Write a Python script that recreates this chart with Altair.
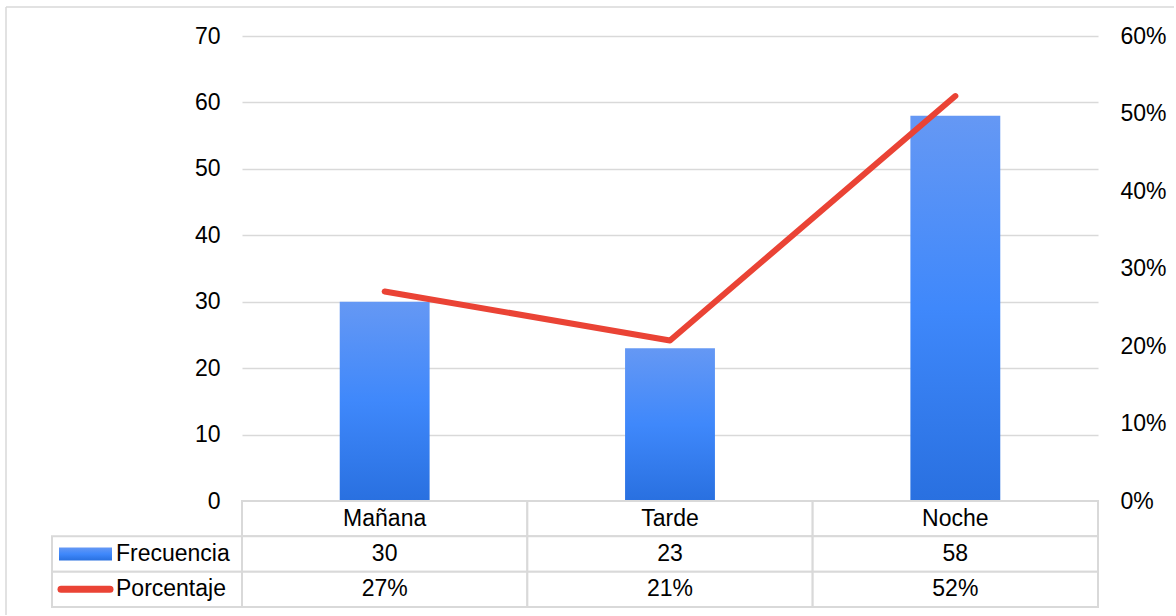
import altair as alt
import pandas as pd

# ---- data ----
categories = ["Mañana", "Tarde", "Noche"]
frecuencia = [30, 23, 58]
porcentaje = [0.2703, 0.2072, 0.5225]
porcentaje_labels = ["27%", "21%", "52%"]
series_names = ["Frecuencia", "Porcentaje"]
left_ticks = [0, 10, 20, 30, 40, 50, 60, 70]
right_ticks = [0, 0.1, 0.2, 0.3, 0.4, 0.5, 0.6]

df = pd.DataFrame({"cat": categories, "freq": frecuencia, "pct": porcentaje})

row_order = ["header"] + series_names
table_rows = []
for c, f, p in zip(categories, frecuencia, porcentaje_labels):
    table_rows.append({"cat": c, "row": "header", "text": c})
    table_rows.append({"cat": c, "row": "Frecuencia", "text": str(f)})
    table_rows.append({"cat": c, "row": "Porcentaje", "text": p})
table_df = pd.DataFrame(table_rows)
legend_df = pd.DataFrame({"row": series_names})
one = pd.DataFrame({"k": [0]})

# ---- style ----
W, H = 856, 465
TH = 106
FONT = "Liberation Sans"
FS = 23
GRID = "#d9d9d9"
RED = "#ea4335"
grad = alt.LinearGradient(
    gradient="linear",
    stops=[
        alt.GradientStop(color="#6598f4", offset=0),
        alt.GradientStop(color="#3f88fb", offset=0.5),
        alt.GradientStop(color="#2970e0", offset=1),
    ],
    x1=0, x2=0, y1=0, y2=1,
)

x_enc = alt.X("cat:N", sort=categories,
              scale=alt.Scale(paddingInner=0, paddingOuter=0), axis=None)

bars = alt.Chart(df).mark_bar(color=grad, width=alt.RelativeBandSize(0.315)).encode(
    x=x_enc,
    y=alt.Y("freq:Q", scale=alt.Scale(domain=[0, 70]),
            axis=alt.Axis(values=left_ticks, title=None, grid=True, gridColor=GRID,
                          gridWidth=1.3, domain=False, ticks=False, labelPadding=22,
                          labelFont=FONT, labelFontSize=FS, labelColor="#000000")),
)

line = alt.Chart(df).mark_line(color=RED, strokeWidth=6, strokeCap="round",
                               strokeJoin="round").encode(
    x=x_enc,
    y=alt.Y("pct:Q", scale=alt.Scale(domain=[0, 0.6]),
            axis=alt.Axis(orient="right", values=right_ticks, format=".0%", title=None,
                          grid=False, domain=False, ticks=False, labelPadding=22,
                          labelFont=FONT, labelFontSize=FS, labelColor="#000000")),
)

frame_top = alt.Chart(one).mark_rule(color=GRID, strokeWidth=1.5).encode(
    x=alt.value(-236), x2=alt.value(932), y=alt.value(-29))
frame_left = alt.Chart(one).mark_rule(color=GRID, strokeWidth=1.5).encode(
    x=alt.value(-236), y=alt.value(-29), y2=alt.value(579))

top = alt.layer(frame_top, frame_left, bars, line).resolve_scale(y="independent").properties(
    width=W, height=H)

# ---- data table ----
y_tab = alt.Y("row:N", sort=row_order, scale=alt.Scale(paddingInner=0, paddingOuter=0),
              axis=None)
x_tab = alt.X("cat:N", sort=categories,
              scale=alt.Scale(paddingInner=0, paddingOuter=0), axis=None)

cells = alt.Chart(table_df).mark_rect(fill="white", stroke=GRID, strokeWidth=2).encode(
    x=x_tab, y=y_tab)
cell_text = alt.Chart(table_df).mark_text(font=FONT, fontSize=FS, color="#000000",
                                          baseline="middle").encode(
    x=x_tab, y=y_tab, text="text:N")

leg_cells = alt.Chart(legend_df).mark_rect(fill="white", stroke=GRID, strokeWidth=2).encode(
    x=alt.value(-190), x2=alt.value(0), y=y_tab)
leg_text = alt.Chart(legend_df).mark_text(font=FONT, fontSize=FS, color="#000000",
                                          align="left", baseline="middle").encode(
    x=alt.value(-126), y=y_tab, text="row:N")
leg_bar = alt.Chart(legend_df[legend_df.row == "Frecuencia"]).mark_bar(
    color=grad, height=13).encode(
    x=alt.value(-183), x2=alt.value(-130), y=y_tab)
leg_line = alt.Chart(legend_df[legend_df.row == "Porcentaje"]).mark_rule(
    color=RED, strokeWidth=7, strokeCap="round").encode(
    x=alt.value(-181), x2=alt.value(-132), y=y_tab)

table = alt.layer(cells, cell_text, leg_cells, leg_text, leg_bar, leg_line).properties(
    width=W, height=TH)

chart = alt.vconcat(top, table, spacing=0, bounds="flush").properties(
    padding={"left": 5, "top": 6, "right": 0, "bottom": 0}
).configure(font=FONT).configure_view(strokeWidth=0, stroke="transparent")

chart.save("out.html", embed_options={"renderer": "svg", "actions": False})
